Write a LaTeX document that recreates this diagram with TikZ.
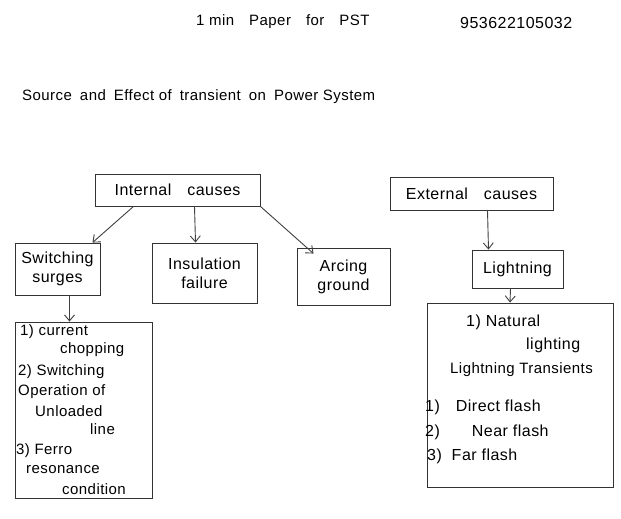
\documentclass[tikz,border=0pt]{standalone}
\usepackage{fontspec}
\setmainfont{Liberation Sans}[LetterSpace=3]
\usetikzlibrary{arrows.meta,calc}
\newcommand{\gp}{\hspace{8pt}}
\tikzset{
  box/.style={draw=black!80, line width=0.9pt, rectangle, inner sep=2pt, align=center, font=\fontsize{16}{19}\selectfont},
  txt/.style={anchor=west, inner sep=0pt, font=\fontsize{15}{18}\selectfont},
  arr/.style={draw=black!75, line width=0.9pt, -{Straight Barb[length=6pt,width=10pt]}},
}
\begin{document}
\begin{tikzpicture}[x=1pt,y=-1pt]
\useasboundingbox (0,0) rectangle (621,519);
\fill[white] (0,0) rectangle (621,519);
% header
\node[txt] (hdr) at (196,22) {1 min\quad Paper\quad for\quad PST};
\node[txt, font=\fontsize{16}{18}\selectfont] (num) at (460,23) {953622105032};
\node[txt] (ttl) at (22,97) {Source\gp and\gp Effect of\gp transient\gp on\gp Power System};
% top row
\node[box, minimum width=165pt, minimum height=32pt] (int) at (177.5,190) {Internal\quad causes};
\node[box, minimum width=163pt, minimum height=33pt] (ext) at (471.5,193.5) {External\quad causes};
% second row
\node[box, minimum width=85pt, minimum height=52pt] (sw) at (57.5,269) {Switching\\surges};
\node[box, minimum width=105pt, minimum height=60pt] (ins) at (204.5,273) {Insulation\\failure};
\node[box, minimum width=93pt, minimum height=57pt] (arc) at (343.5,276.5) {Arcing\\ground};
\node[box, minimum width=91pt, minimum height=38pt] (lig) at (517.5,269) {Lightning};
% bottom boxes
\node[box, minimum width=137pt, minimum height=176pt] (lbox) at (83.5,410) {};
\node[box, minimum width=186pt, minimum height=184pt] (rbox) at (520,395) {};
% left box text
\node[txt] (l1) at (20,332) {1) current};
\node[txt] (l2) at (60,350) {chopping};
\node[txt] (l3) at (18,372) {2) Switching};
\node[txt] (l4) at (18,392) {Operation of};
\node[txt] (l5) at (35,411) {Unloaded};
\node[txt] (l6) at (90,429) {line};
\node[txt] (l7) at (16,451) {3) Ferro};
\node[txt] (l8) at (26,470) {resonance};
\node[txt] (l9) at (62,489) {condition};
% right box text
\node[txt, font=\fontsize{16}{18}\selectfont] (r1) at (466,322) {1) Natural};
\node[txt, font=\fontsize{16}{18}\selectfont] (r2) at (526,345) {lighting};
\node[txt] (r3) at (450,370) {Lightning Transients};
\node[txt, font=\fontsize{16}{18}\selectfont] (r4) at (425,407) {1)\quad Direct flash};
\node[txt, font=\fontsize{16}{18}\selectfont] (r5) at (425,432) {2)\qquad Near flash};
\node[txt, font=\fontsize{16}{18}\selectfont] (r6) at (427,456) {3)\ \ Far flash};
% connectors
\draw[arr] ([xshift=-44pt]int.south) -- ([xshift=35pt]sw.north);
\draw[arr] ([xshift=17pt]int.south) -- ([xshift=-9pt]ins.north);
\draw[arr] (int.south east) -- ([xshift=-30pt,yshift=-6pt]arc.north);
\draw[arr] ([xshift=16pt]ext.south) -- ([xshift=-29pt]lig.north);
\draw[arr] ([xshift=-7pt]lig.south) -- ([xshift=-10pt]rbox.north);
\draw[arr] ([xshift=12pt]sw.south) -- ([xshift=-14pt]lbox.north);
\end{tikzpicture}
\end{document}
